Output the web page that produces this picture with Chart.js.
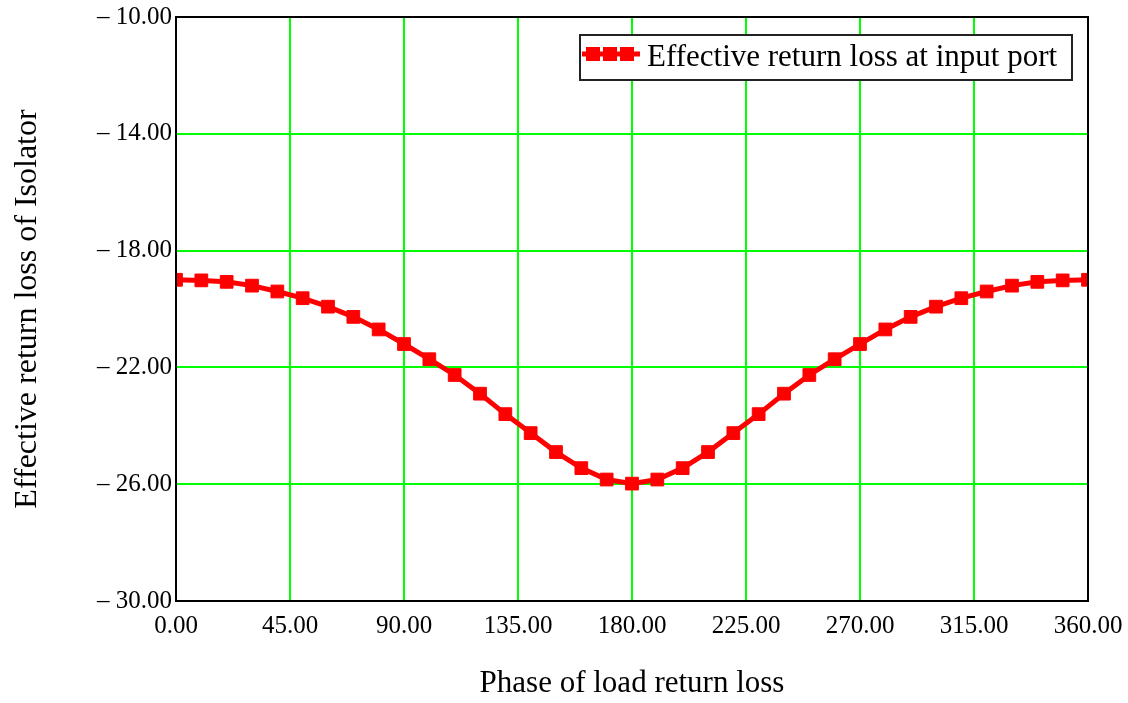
<!DOCTYPE html>
<html>
<head>
<meta charset="utf-8">
<title>Effective return loss</title>
<script src="https://cdn.jsdelivr.net/npm/chart.js@4"></script>
<style>
  body { margin: 0; background: #fff; }
  canvas { display: block; }
</style>
</head>
<body>
<canvas id="chart" width="1128" height="703"></canvas>
<script>
// phase of load return loss (deg)
const phase = [0, 10, 20, 30, 40, 50, 60, 70, 80, 90, 100, 110, 120, 130, 140, 150, 160, 170, 180,
  190, 200, 210, 220, 230, 240, 250, 260, 270, 280, 290, 300, 310, 320, 330, 340, 350, 360];
// effective return loss at input port (dB)
const returnLoss = [-19.00, -19.02, -19.07, -19.20, -19.40, -19.63, -19.92, -20.27, -20.70, -21.20,
  -21.72, -22.26, -22.90, -23.60, -24.25, -24.90, -25.45, -25.84, -25.98,
  -25.84, -25.45, -24.90, -24.25, -23.60, -22.90, -22.26, -21.72, -21.20, -20.70,
  -20.27, -19.92, -19.63, -19.40, -19.20, -19.07, -19.02, -19.00];
const xTicks = [0, 45, 90, 135, 180, 225, 270, 315, 360];
const yTicks = [-30, -26, -22, -18, -14, -10];

const serif = '"Liberation Serif", "DejaVu Serif", serif';

// box round the plot + boxed legend inside, top right
const frameAndLegend = {
  id: 'frameAndLegend',
  afterDraw(chart) {
    const { ctx, chartArea: a } = chart;
    ctx.save();
    ctx.strokeStyle = '#000';
    ctx.lineWidth = 2;
    ctx.strokeRect(a.left, a.top, a.right - a.left, a.bottom - a.top);

    // legend
    const ds = chart.data.datasets[0];
    ctx.fillStyle = '#fff';
    ctx.fillRect(580, 35, 492, 45);
    ctx.strokeStyle = '#222';
    ctx.lineWidth = 2;
    ctx.strokeRect(580, 35, 492, 45);

    ctx.strokeStyle = ds.borderColor;
    ctx.lineWidth = 5;
    ctx.beginPath();
    ctx.moveTo(582, 54);
    ctx.lineTo(640, 54);
    ctx.stroke();
    ctx.fillStyle = ds.borderColor;
    [593, 610, 627].forEach(x => ctx.fillRect(x - 7, 54 - 7, 14, 14));

    ctx.fillStyle = '#000';
    ctx.font = '31px ' + serif;
    ctx.textBaseline = 'alphabetic';
    ctx.textAlign = 'left';
    ctx.fillText(ds.label, 647, 66);
    ctx.restore();
  }
};

new Chart(document.getElementById('chart'), {
  type: 'line',
  data: {
    datasets: [{
      label: 'Effective return loss at input port',
      data: phase.map((p, i) => ({ x: p, y: returnLoss[i] })),
      borderColor: '#ff0000',
      backgroundColor: '#ff0000',
      borderWidth: 5,
      pointStyle: 'rect',
      pointRadius: 9,
      pointBorderWidth: 1,
      tension: 0,
      clip: 0
    }]
  },
  options: {
    responsive: false,
    animation: false,
    layout: { padding: { top: 17, right: 40, left: 0, bottom: 0 } },
    plugins: {
      legend: { display: false },
      tooltip: { enabled: false }
    },
    scales: {
      x: {
        type: 'linear',
        min: 0,
        max: 360,
        afterBuildTicks: s => { s.ticks = xTicks.map(v => ({ value: v })); },
        afterFit: s => { s.height = 102; s.paddingLeft = 0; s.paddingRight = 0; },
        grid: { color: '#00ff00', lineWidth: 2, drawTicks: false },
        border: { color: '#000', width: 2 },
        ticks: {
          color: '#000',
          padding: 10,
          maxRotation: 0,
          font: { family: serif, size: 25 },
          callback: v => v.toFixed(2)
        },
        title: {
          display: true,
          text: 'Phase of load return loss',
          color: '#000',
          font: { family: serif, size: 31 },
          padding: { top: 0, bottom: 1 }
        }
      },
      y: {
        min: -30,
        max: -10,
        afterBuildTicks: s => { s.ticks = yTicks.map(v => ({ value: v })); },
        afterFit: s => { s.width = 176; s.paddingTop = 0; s.paddingBottom = 0; },
        grid: { color: '#00ff00', lineWidth: 2, drawTicks: false },
        border: { color: '#000', width: 2 },
        ticks: {
          color: '#000',
          padding: 4,
          font: { family: serif, size: 25 },
          callback: v => '\u2013 ' + Math.abs(v).toFixed(2)
        },
        title: {
          display: true,
          text: 'Effective return loss of Isolator',
          color: '#000',
          font: { family: serif, size: 32 },
          padding: { top: 8, bottom: 0 }
        }
      }
    }
  },
  plugins: [frameAndLegend]
});
</script>
</body>
</html>
